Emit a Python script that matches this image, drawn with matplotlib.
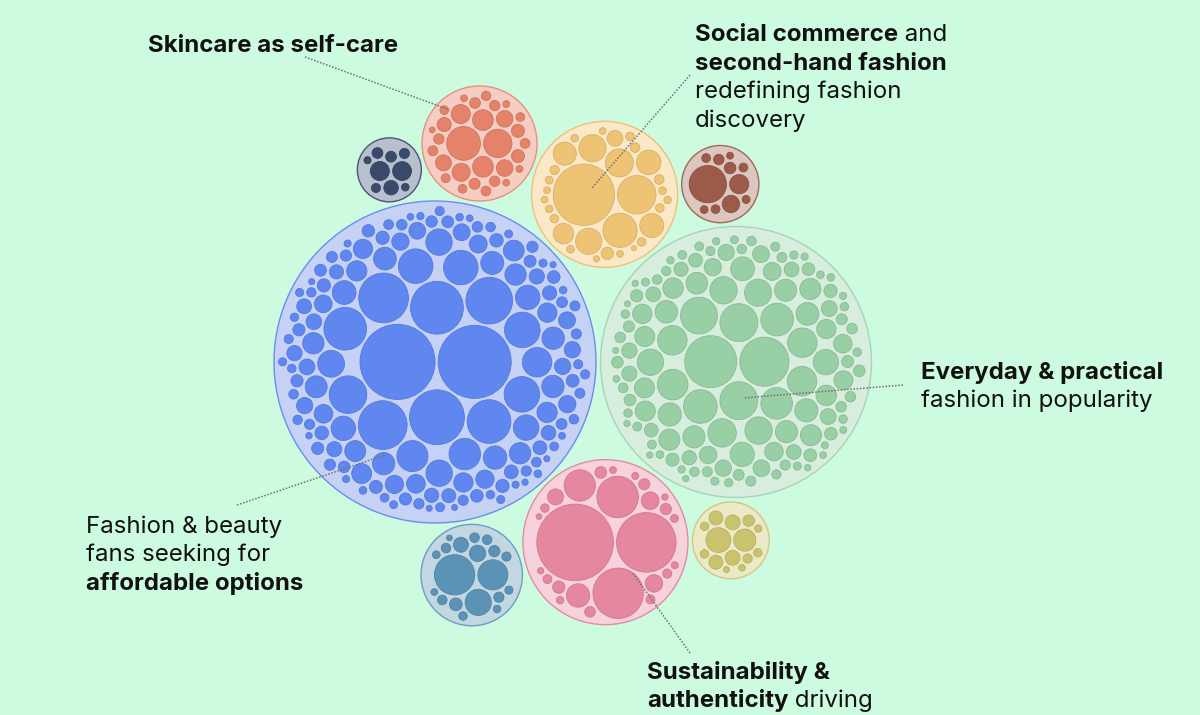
import numpy as np
import matplotlib.pyplot as plt
from matplotlib.patches import Circle
from matplotlib.colors import to_rgb

# ---- data: topic clusters (largest first) and the bubbles inside each one
topics = ["Fashion & beauty fans", "Everyday & practical", "Sustainability",
          "Social commerce", "Skincare", "Teal topic", "Brown topic",
          "Olive topic", "Navy topic"]
cluster_radius = [161, 135.5, 82.5, 73, 57.5, 50.7, 38.6, 38.4, 32]

blue_leaves = [37, 36, 27, 26, 24.5, 24, 23, 21.5, 21,
               18.5, 17.5, 17.5, 17, 17, 15.5, 15.3, 14.5,
               13.2, 13, 13, 12.5, 12, 12, 11.7, 11.5, 11.3, 11.2, 11, 11, 11,
               10.8, 10.5, 10.5, 10.5, 10.3, 10.2, 10, 10,
               9.8, 9.5, 9.5, 9.5, 9.2, 9.2, 9, 9, 8.8, 8.7, 8.5, 8.5, 8.3,
               8.3, 8.2, 8, 8, 8,
               7.8, 7.7, 7.5, 7.5, 7.4, 7.3, 7.2, 7, 7, 7, 6.9, 6.8, 6.8, 6.7,
               6.6, 6.5, 6.5, 6.5, 6.4, 6.3, 6.2, 6.2, 6.1, 6, 6, 6, 6,
               5.9, 5.8, 5.8, 5.7, 5.6, 5.5, 5.5, 5.5, 5.4, 5.3, 5.3, 5.2, 5.2,
               5.1, 5, 5, 5, 5, 4.9, 4.9, 4.8, 4.8, 4.7, 4.7, 4.7, 4.6, 4.6,
               4.5, 4.5, 4.5, 4.5,
               4.4, 4.3, 4.3, 4.2, 4.2, 4.1, 4, 4, 4, 4, 3.9, 3.9, 3.8, 3.8,
               3.7, 3.7, 3.6, 3.5, 3.5, 3.5, 3.4, 3.3, 3.3, 3.2, 3.1, 3, 3, 3,
               3, 3]
green_leaves = [24.7, 23.3,
                18, 18, 17.5, 16, 15.5, 15, 14.5, 14, 14, 14, 13.5, 13, 13,
                12.8, 12.5,
                12, 11.5, 11.3, 11, 11, 10.8, 10.7, 10.5, 10.5, 10.5, 10.3,
                10, 10, 10,
                9.7, 9.7, 9.5, 9.5, 9.5, 9.2, 9.2, 9, 8.8, 8.8, 8.5, 8.3, 8.2,
                8, 8,
                7.8, 7.7, 7.5, 7.5, 7.3, 7.2, 7, 7, 7, 6.8, 6.7, 6.5, 6.5, 6.3,
                6.2, 6, 6, 6,
                5.8, 5.7, 5.5, 5.5, 5.5, 5.3, 5.2, 5.2, 5, 5, 5, 5, 4.8, 4.8,
                4.7, 4.7, 4.6, 4.5, 4.5, 4.5, 4.5,
                4.4, 4.4, 4.3, 4.3, 4.2, 4.2, 4.2, 4.1, 4, 4, 4, 4, 4, 3.9,
                3.9, 3.8, 3.8, 3.8, 3.7, 3.7, 3.6, 3.6, 3.5, 3.5, 3.5, 3.4,
                3.4, 3.3, 3.3, 3.2, 3.2, 3.1, 3, 3, 3, 3, 2.9, 2.8]
pink_leaves = [36, 28, 23.7, 19.5, 14.7, 11, 8.3, 8.2, 7.5, 5.8, 5.5, 5.3,
               5.2, 5, 4.3, 4.2, 4.2, 4, 3.7, 3.5, 3.3, 3.3, 3.2, 3, 3, 2.7]
orange_leaves = [30, 18.8, 16.7, 13.7, 13.3, 12.8, 12, 11.7, 11.3, 10, 7.7, 6,
                 4.7, 4.7, 4.5, 4.2, 4.2, 4.2, 4.2, 3.8, 3.7, 3.7, 3.7, 3.7,
                 3.7, 3.3, 3.3, 3.3, 3.3, 3, 2.5]
salmon_leaves = [16.3, 13.7, 10, 10, 9.2, 8.7, 8, 8, 7.7, 6.8, 6.3, 6.3, 5.3,
                 5.2, 5, 5, 5, 4.8, 4.7, 4.7, 4.5, 4.3, 4.2, 4.2, 4.2, 3.3,
                 3.3, 3.3, 3.2, 2.8]
teal_leaves = [19.7, 14.7, 12.8, 8, 7.3, 6.2, 5.5, 5, 4.7, 4.7, 4.7, 4.7, 4.5,
               4.2, 4, 3.8, 3.7, 3.3, 2.8]
brown_leaves = [17.8, 9.2, 8.3, 5.5, 5, 4.2, 4.2, 4.2, 3.8, 3.7, 3.3]
olive_leaves = [12.5, 11.2, 7.5, 7.5, 7, 7, 5.8, 4.7, 4.3, 4.2, 4.2, 3.7, 3.3, 3]
navy_leaves = [8.8, 8.7, 6.7, 5, 5, 4.7, 4.2, 3.5, 3.3]

leaf_sets = [blue_leaves, green_leaves, pink_leaves, orange_leaves,
             salmon_leaves, teal_leaves, brown_leaves, olive_leaves, navy_leaves]

leaf_colors = ["#5f87ef", "#98cfa4", "#e5879f", "#eec374", "#e5826a",
               "#5b93b6", "#9c5a48", "#c9c36e", "#3b4a6b"]
fill_colors = ["#c5d2f6", "#d7eede", "#f7d1dc", "#fbe8c7", "#f6cdc2",
               "#c3d7e2", "#dcc6c0", "#eceac6", "#b8c0cd"]
edge_colors = ["#6a8df0", "#a9d3b3", "#e48ba3", "#efc078", "#e8917e",
               "#6b9ec2", "#a26858", "#d1c882", "#4b5676"]

BG = "#cdfbe0"
GAP_INNER = 3.0     # space between bubbles inside a cluster
GAP_OUTER = 4.5     # space between clusters
PAD_EDGE = 3.0      # space between bubbles and cluster rim
ANCHOR = (435, 362)  # where the largest cluster sits on the canvas


# ---- front-chain circle packing (same scheme as d3.packSiblings)
def place(b, a, c, x, y, r):
    dx, dy = x[b] - x[a], y[b] - y[a]
    d2 = dx * dx + dy * dy
    if d2:
        a2 = (r[a] + r[c]) ** 2
        b2 = (r[b] + r[c]) ** 2
        if a2 > b2:
            t = (d2 + b2 - a2) / (2 * d2)
            h = np.sqrt(max(0.0, b2 / d2 - t * t))
            x[c] = x[b] - t * dx - h * dy
            y[c] = y[b] - t * dy + h * dx
        else:
            t = (d2 + a2 - b2) / (2 * d2)
            h = np.sqrt(max(0.0, a2 / d2 - t * t))
            x[c] = x[a] + t * dx - h * dy
            y[c] = y[a] + t * dy + h * dx
    else:
        x[c] = x[a] + r[c]
        y[c] = y[a]


def pack_siblings(radii):
    r = list(radii)
    n = len(r)
    x = [0.0] * n
    y = [0.0] * n
    if n < 2:
        return np.array(x), np.array(y)
    x[0] = -r[1]
    x[1] = r[0]
    if n == 2:
        return np.array(x), np.array(y)
    place(1, 0, 2, x, y, r)

    def hits(p, q):
        dr = r[p] + r[q] - 1e-6
        return dr > 0 and dr * dr > (x[q] - x[p]) ** 2 + (y[q] - y[p]) ** 2

    nxt = [0] * n
    prv = [0] * n

    def score(p):
        q = nxt[p]
        ab = r[p] + r[q]
        mx = (x[p] * r[q] + x[q] * r[p]) / ab
        my = (y[p] * r[q] + y[q] * r[p]) / ab
        return mx * mx + my * my

    a, b, c = 0, 1, 2
    nxt[a] = b; prv[c] = b
    nxt[b] = c; prv[a] = c
    nxt[c] = a; prv[b] = a
    i = 3
    while i < n:
        place(a, b, i, x, y, r)
        j, k, sj, sk = nxt[b], prv[a], r[b], r[a]
        hit = False
        while True:
            if sj <= sk:
                if hits(j, i):
                    b = j; nxt[a] = b; prv[b] = a
                    hit = True
                    break
                sj += r[j]; j = nxt[j]
            else:
                if hits(k, i):
                    a = k; nxt[a] = b; prv[b] = a
                    hit = True
                    break
                sk += r[k]; k = prv[k]
            if j == nxt[k]:
                break
        if hit:
            continue
        prv[i] = a; nxt[i] = b; nxt[a] = i; prv[b] = i; b = i
        best = score(a)
        c = nxt[i]
        while c != b:
            sc = score(c)
            if sc < best:
                a, best = c, sc
            c = nxt[c]
        b = nxt[a]
        i += 1
    return np.array(x), np.array(y)


def enclose(x, y, r):
    r = np.asarray(r, float)
    c = np.array([np.average(x, weights=r ** 2), np.average(y, weights=r ** 2)])
    for t in range(1, 4000):
        d = np.hypot(x - c[0], y - c[1])
        i = np.argmax(d + r)
        p = np.array([x[i], y[i]])
        far = p + r[i] * (p - c) / d[i] if d[i] > 0 else p + [r[i], 0]
        c += (far - c) / (t + 1)
    R = np.max(np.hypot(x - c[0], y - c[1]) + r)
    return c[0], c[1], R


def darker(col, f=0.9):
    return tuple(v * f for v in to_rgb(col))


# ---- figure
fig = plt.figure(figsize=(12, 7.15), dpi=100, facecolor=BG)
ax = fig.add_axes([0, 0, 1, 1])
ax.set_facecolor(BG)
ax.set_xlim(0, 1200)
ax.set_ylim(715, 0)
ax.axis("off")

cx, cy = pack_siblings([R + GAP_OUTER / 2 for R in cluster_radius])
cx = cx - cx[0] + ANCHOR[0]
cy = cy - cy[0] + ANCHOR[1]

for ci, leaves in enumerate(leaf_sets):
    R = cluster_radius[ci]
    ax.add_patch(Circle((cx[ci], cy[ci]), R, facecolor=fill_colors[ci],
                        edgecolor=edge_colors[ci], lw=1.0, zorder=1))
    padded = [v + GAP_INNER / 2 for v in leaves]
    lx, ly = pack_siblings(padded)
    ex, ey, er = enclose(lx, ly, padded)
    s = (R - PAD_EDGE) / er
    for v, px, py in zip(leaves, lx, ly):
        ax.add_patch(Circle((cx[ci] + (px - ex) * s, cy[ci] + (py - ey) * s),
                            v * s, facecolor=leaf_colors[ci],
                            edgecolor=darker(leaf_colors[ci]), lw=0.6, zorder=2))

# ---- leader lines
leaders = [((305, 57), (450, 110)),
           ((690, 75), (592, 188)),
           ((903, 385), (743, 398)),
           ((237, 505), (385, 455)),
           ((690, 653), (632, 572))]
for (x0, y0), (x1, y1) in leaders:
    ax.plot([x0, x1], [y0, y1], color="#707070", lw=1.1,
            linestyle=(0, (1, 1.1)), zorder=4)

# ---- labels
FONT = ["Inter", "DejaVu Sans"]
FS = 17.3
LINE = 28.5
labels = [
    (148, 52, [[("Skincare as self-care", "bold")]]),
    (695, 41, [[("Social commerce", "bold"), (" and", "normal")],
               [("second-hand fashion", "bold")],
               [("redefining fashion", "normal")],
               [("discovery", "normal")]]),
    (921, 379, [[("Everyday & practical", "bold")],
                [("fashion in popularity", "normal")]]),
    (86, 533, [[("Fashion & beauty", "normal")],
               [("fans seeking for", "normal")],
               [("affordable options", "bold")]]),
    (647, 679, [[("Sustainability &", "bold")],
                [("authenticity", "bold"), (" driving", "normal")]]),
]
fig.canvas.draw()
renderer = fig.canvas.get_renderer()
for x0, y0, lines in labels:
    for li, segs in enumerate(lines):
        x = x0
        for txt, wt in segs:
            t = ax.text(x, y0 + li * LINE, txt, fontsize=FS, fontweight=wt,
                        family=FONT, color="#111111", va="baseline",
                        ha="left", zorder=5)
            bb = t.get_window_extent(renderer)
            x = ax.transData.inverted().transform((bb.x1, bb.y0))[0]

fig.savefig("out.png", dpi=100, facecolor=BG)
